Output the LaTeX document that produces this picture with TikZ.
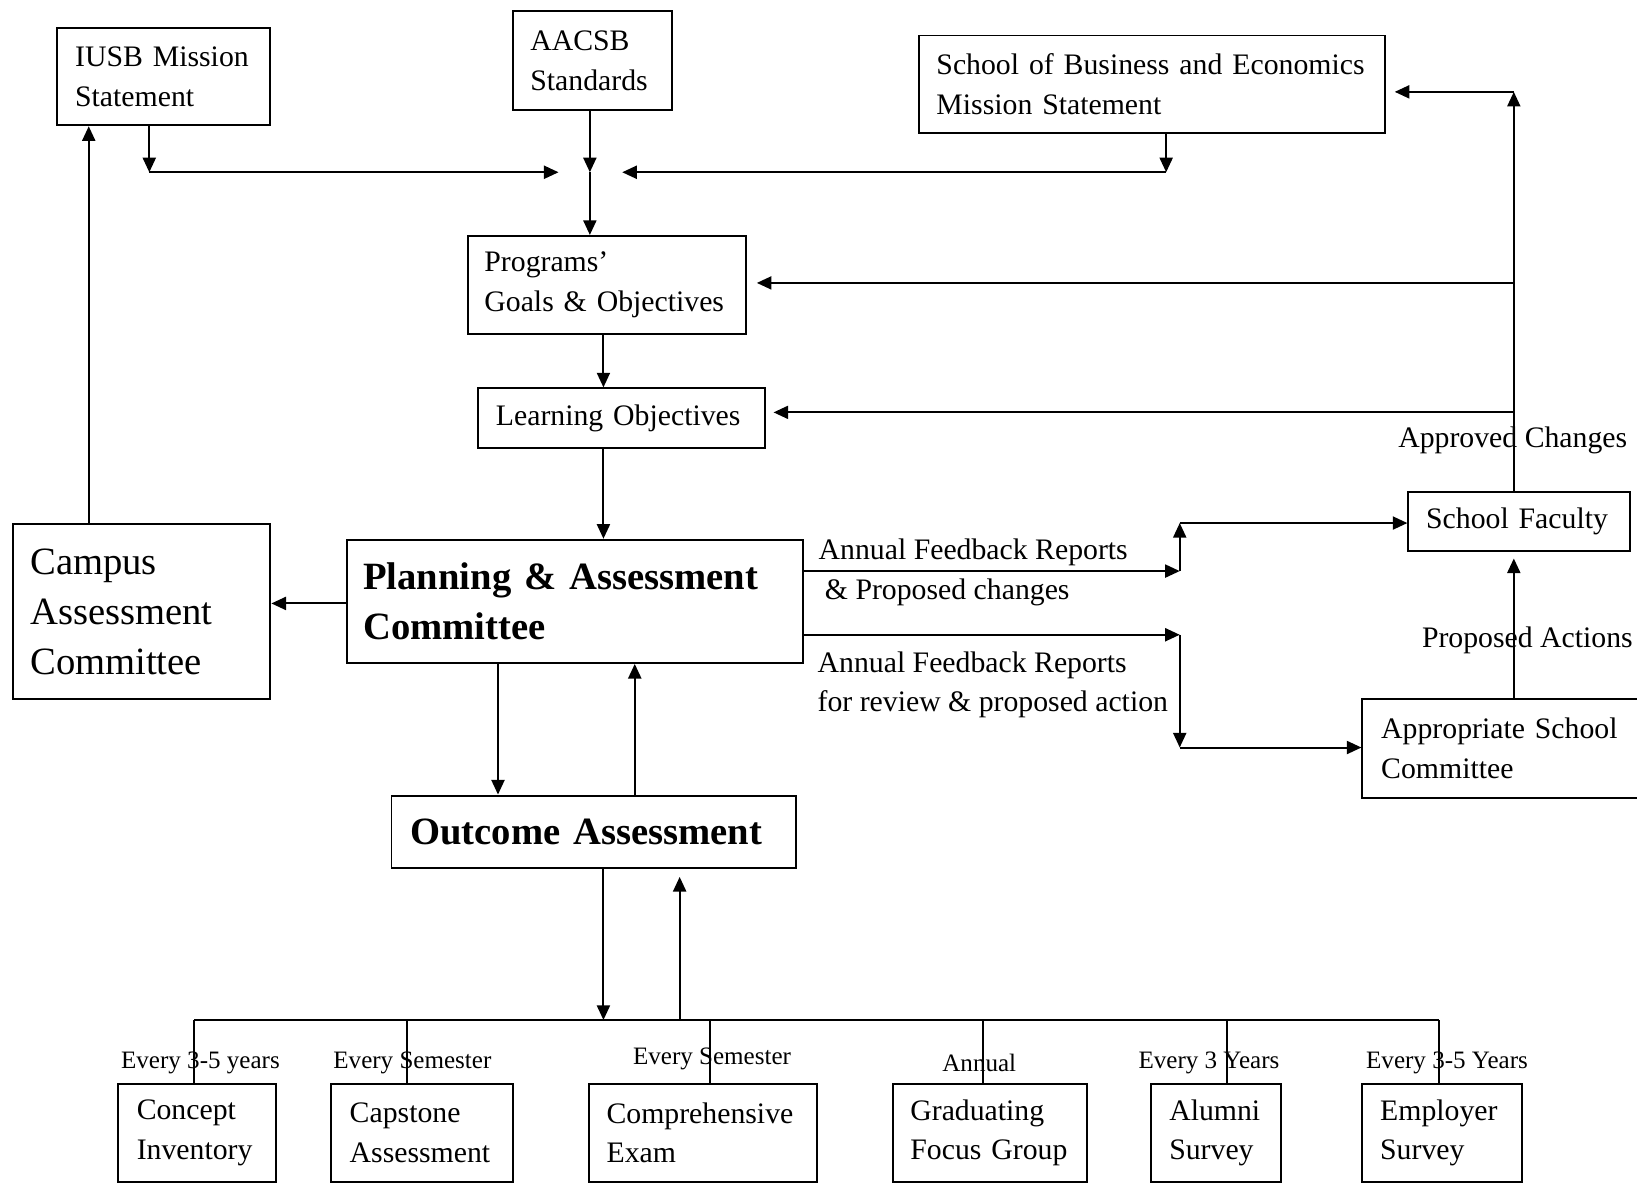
\documentclass[tikz,border=0pt]{standalone}
\usepackage{fontspec}
\setmainfont{Liberation Serif}
\usetikzlibrary{arrows.meta}
\newcommand\fnorm{\fontsize{28.5}{38}\selectfont}
\newcommand\fbig{\fontsize{37}{48}\selectfont}
\newcommand\fsmall{\fontsize{24}{28}\selectfont}
\begin{document}
\begin{tikzpicture}[x=1pt,y=-1pt,
  box/.style={draw,line width=1.9pt,rectangle,align=left,inner ysep=0pt,font=\fnorm},
  bbox/.style={box,font=\fbig\bfseries},
  cbox/.style={box,font=\fbig},
  lbl/.style={inner sep=0pt,font=\fnorm},
  slbl/.style={inner sep=0pt,font=\fsmall},
  arr/.style={line width=1.9pt,-{Triangle[length=14pt,width=12.5pt]}},
  ln/.style={line width=1.9pt}]
\fill[white] (0,0) rectangle (1568,1134);
\useasboundingbox (0,0) rectangle (1568,1134);

% boxes
\node[box,minimum height=93pt,text width=170pt,inner xsep=17pt] (iusb) at (157,73.5) {IUSB Mission\\Statement};
\node[box,minimum height=94pt,text width=119pt,inner xsep=17pt] (aacsb) at (567.5,58) {AACSB\\Standards};
\node[box,minimum height=93pt,text width=413pt,inner xsep=17pt] (sbe) at (1103.5,80.5) {School of Business and Economics\\Mission Statement};
\node[box,minimum height=94pt,text width=235pt,inner xsep=16pt] (prog) at (581.5,273) {Programs’\\Goals~\&~Objectives};
\node[box,minimum height=57pt,text width=241pt,inner xsep=17pt] (lo) at (595.5,400.5) {Learning~Objectives};
\node[bbox,minimum height=118pt,text width=405pt,inner xsep=16pt] (pac) at (550.5,576) {Planning \& Assessment\\Committee};
\node[cbox,minimum height=168pt,text width=213pt,inner xsep=17pt] (cac) at (135.5,586) {Campus\\Assessment\\Committee};
\node[bbox,minimum height=69pt,text width=351pt,inner xsep=18pt] (oa) at (568.5,796.5) {Outcome~Assessment};
\node[box,minimum height=57pt,text width=178pt,inner xsep=17pt] (sf) at (1455,499.5) {School~Faculty};
\node[box,minimum height=94pt,text width=239pt,inner xsep=18pt] (asc) at (1442.5,717) {Appropriate~School\\Committee};

\node[box,minimum height=94pt,text width=115pt,inner xsep=18pt] (ci) at (188.5,1085) {Concept\\Inventory};
\node[box,minimum height=94pt,text width=138pt,inner xsep=18pt] (ca) at (404,1085) {Capstone\\Assessment};
\node[box,minimum height=94pt,text width=185pt,inner xsep=17pt] (ce) at (673.5,1085) {Comprehensive\\Exam};
\node[box,minimum height=94pt,text width=152pt,inner xsep=17pt] (gfg) at (948,1085) {Graduating\\Focus~Group};
\node[box,minimum height=94pt,text width=89pt,inner xsep=18pt] (as) at (1164.5,1085) {Alumni\\Survey};
\node[box,minimum height=94pt,text width=119pt,inner xsep=17pt] (es) at (1381.5,1085) {Employer\\Survey};

% helper coordinates
\coordinate (ci1) at (143,165);
\coordinate (cx) at (565,165);
\coordinate (cl) at (535,165);
\coordinate (cr) at (596,165);
\coordinate (cs) at (1117,165);
\coordinate (colx) at (578,0);
\coordinate (x85) at (85,0);
\coordinate (x477) at (477,0);
\coordinate (x608) at (608,0);
\coordinate (x651) at (651,0);
\coordinate (vx) at (1450,0);
\coordinate (jx) at (1130,0);
\coordinate (r88) at (0,88);
\coordinate (r271) at (0,271);
\coordinate (r395) at (0,395);
\coordinate (r501) at (0,501);
\coordinate (r547) at (0,547);
\coordinate (r578) at (0,578);
\coordinate (r608) at (0,608);
\coordinate (r716) at (0,716);
\coordinate (bus) at (0,977);
\coordinate (b1) at (186,977);
\coordinate (b2) at (390,977);
\coordinate (b3) at (680,977);
\coordinate (b4) at (942,977);
\coordinate (b5) at (1175,977);
\coordinate (b6) at (1378,977);

% top merging
\draw[arr] (iusb.south -| ci1) -- (ci1);
\draw[arr] (ci1) -- (cl);
\draw[arr] (sbe.south -| cs) -- (cs);
\draw[arr] (cs) -- (cr);
\draw[arr] (aacsb.south -| cx) -- (cx);
\draw[arr] (cx) -- (prog.north -| cx);

% main column
\draw[arr] (prog.south -| colx) -- (lo.north -| colx);
\draw[arr] (lo.south -| colx) -- (pac.north -| colx);
\draw[arr] (pac.west |- r578) -- (cac.east |- r578);
\draw[arr] (cac.north -| x85) -- (iusb.south -| x85);
\draw[arr] (pac.south -| x477) -- (oa.north -| x477);
\draw[arr] (oa.north -| x608) -- (pac.south -| x608);
\draw[arr] (oa.south -| colx) -- (colx |- bus);
\draw[arr,shorten >=8pt] (x651 |- bus) -- (oa.south -| x651);

% bottom bus
\draw[ln] (b1) -- (b6);
\draw[ln] (b1) -- (ci.north -| b1);
\draw[ln] (b2) -- (ca.north -| b2);
\draw[ln] (b3) -- (ce.north -| b3);
\draw[ln] (b4) -- (gfg.north -| b4);
\draw[ln] (b5) -- (as.north -| b5);
\draw[ln] (b6) -- (es.north -| b6);

% right side feedback
\draw[arr] (sf.north -| vx) -- (vx |- r88);
\draw[arr,shorten >=8pt] (vx |- r88) -- (sbe.east |- r88);
\draw[arr,shorten >=9pt] (vx |- r271) -- (prog.east |- r271);
\draw[arr,shorten >=7pt] (vx |- r395) -- (lo.east |- r395);
\draw[arr,shorten >=6pt] (asc.north -| vx) -- (sf.south -| vx);

\draw[arr] (pac.east |- r547) -- (jx |- r547);
\draw[arr] (jx |- r547) -- (jx |- r501);
\draw[arr] (jx |- r501) -- (sf.west |- r501);
\draw[arr] (pac.east |- r608) -- (jx |- r608);
\draw[arr] (jx |- r608) -- (jx |- r716);
\draw[arr] (jx |- r716) -- (asc.west |- r716);

% labels
\node[lbl,anchor=west,align=left] (l1) at (784,548.5) {Annual Feedback Reports\\\hspace*{6pt}\& Proposed changes};
\node[lbl,anchor=west,align=left] (l2) at (783,656) {Annual Feedback Reports\\for review \& proposed action};
\node[lbl] (l3) at (1449,422) {Approved Changes};
\node[lbl] (l4) at (1463,613) {Proposed Actions};

\node[slbl] (f1) at (192,1018) {Every 3-5 years};
\node[slbl] (f2) at (395,1018) {Every Semester};
\node[slbl] (f3) at (682,1014) {Every Semester};
\node[slbl] (f4) at (938,1018) {Annual};
\node[slbl] (f5) at (1158,1018) {Every 3 Years};
\node[slbl] (f6) at (1386,1018) {Every 3-5 Years};
\end{tikzpicture}
\end{document}
